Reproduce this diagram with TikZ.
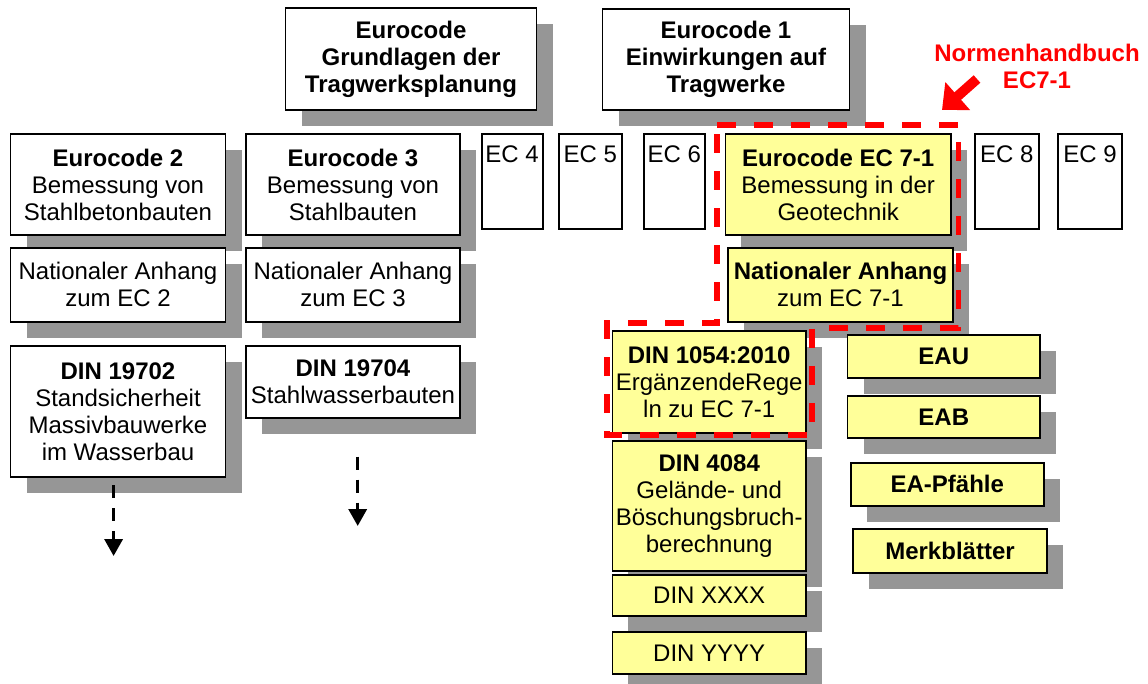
\documentclass[tikz,border=0pt]{standalone}
\usepackage{fontspec}
\setmainfont{Liberation Sans}
\usetikzlibrary{shadows,arrows.meta}
\definecolor{shgray}{HTML}{969696}
\definecolor{boxyellow}{HTML}{FFFF99}
\definecolor{markred}{HTML}{FF0000}
\newcommand\boxfont{\fontsize{24}{27}\selectfont}
\tikzset{
  box/.style={draw=black, line width=1.8pt, fill=white, inner sep=0pt, align=center, font=\boxfont,
    drop shadow={shadow xshift=16pt, shadow yshift=-16pt, fill=shgray, opacity=1}},
  ybox/.style={box, fill=boxyellow},
  ecsmall/.style={draw=black, line width=1.8pt, fill=white, inner xsep=0pt, inner ysep=12pt,
    font=\boxfont, text height=17pt, text depth=54pt, minimum width=62pt, minimum height=95pt},
  redframe/.style={draw=markred, line width=5.5pt, dash pattern=on 19pt off 18pt},
  redarrow/.style={draw=markred, line width=10pt, -{Triangle[length=21pt,width=36pt]}},
  contarrow/.style={draw=black, line width=3.5pt, dash pattern=on 13pt off 10pt, -{Triangle[length=17pt,width=18pt]}},
}
\begin{document}
\begin{tikzpicture}[x=1pt, y=-1pt]
\useasboundingbox (0,0) rectangle (1148,684);
% top row
\node[box, minimum width=251pt, minimum height=102pt] (grund) at (411,59.2)
  {\textbf{Eurocode}\\\textbf{Grundlagen der}\\\textbf{Tragwerksplanung}};
\node[box, minimum width=247pt, minimum height=101pt] (ec1) at (726,59.7)
  {\textbf{Eurocode 1}\\\textbf{Einwirkungen auf}\\\textbf{Tragwerke}};
% second row
\node[box, minimum width=215pt, minimum height=101pt] (ec2) at (118,184.5)
  {\textbf{Eurocode 2}\\Bemessung von\\Stahlbetonbauten};
\node[box, minimum width=214pt, minimum height=101pt] (ec3) at (353,184.5)
  {\textbf{Eurocode 3}\\Bemessung von\\Stahlbauten};
\node[ecsmall, minimum width=61pt] (ec4) at (512.1,181.5) {EC 4};
\node[ecsmall, minimum width=63pt] (ec5) at (590.2,181.5) {EC 5};
\node[ecsmall, minimum width=61pt] (ec6) at (674.4,181.5) {EC 6};
\node[ybox, minimum width=225.6pt, minimum height=101pt] (ec7) at (838.2,184.5)
  {\textbf{Eurocode EC 7-1}\\Bemessung in der\\Geotechnik};
\node[ecsmall, minimum width=64pt] (ec8) at (1006.9,181.5) {EC 8};
\node[ecsmall, minimum width=64pt] (ec9) at (1090,181.5) {EC 9};
% national annexes
\node[box, minimum width=215pt, minimum height=74pt] (na2) at (118,284.7)
  {Nationaler Anhang\\zum EC 2};
\node[box, minimum width=214pt, minimum height=74pt] (na3) at (353,284.7)
  {Nationaler Anhang\\zum EC 3};
\node[ybox, minimum width=225pt, minimum height=74pt] (na7) at (840.5,284.7)
  {\textbf{Nationaler Anhang}\\zum EC 7-1};
% DIN standards
\node[box, minimum width=215pt, minimum height=130.7pt] (din19702) at (118,411.3)
  {\textbf{DIN 19702}\\Standsicherheit\\Massivbauwerke\\im Wasserbau};
\node[box, minimum width=214pt, minimum height=72.3pt] (din19704) at (353,382.2)
  {\textbf{DIN 19704}\\Stahlwasserbauten};
\node[ybox, minimum width=193.6pt, minimum height=101.7pt] (din1054) at (709.2,381.8)
  {\textbf{DIN 1054:2010}\\ErgänzendeRege\\ln zu EC 7-1};
\node[ybox, minimum width=193.6pt, minimum height=129.7pt] (din4084) at (709.2,505.8)
  {\textbf{DIN 4084}\\Gelände- und\\Böschungsbruch-\\berechnung};
\node[ybox, minimum width=193.6pt, minimum height=41pt] (dinx) at (709.2,595.5) {DIN XXXX};
\node[ybox, minimum width=193.6pt, minimum height=42.3pt] (diny) at (709.2,652.8) {DIN YYYY};
% recommendations
\node[ybox, minimum width=192.5pt, minimum height=43pt] (eau) at (943.8,356.5) {\textbf{EAU}};
\node[ybox, minimum width=192.5pt, minimum height=42.6pt] (eab) at (943.8,417) {\textbf{EAB}};
\node[ybox, minimum width=192.6pt, minimum height=43.3pt] (eap) at (947.3,484.3) {\textbf{EA-Pfähle}};
\node[ybox, minimum width=194pt, minimum height=43.7pt] (merk) at (950,550.8) {\textbf{Merkblätter}};
% continuation arrows
\coordinate (c1s) at (113.6,485);
\coordinate (c1e) at (113.6,556);
\coordinate (c2s) at (357.7,456.7);
\coordinate (c2e) at (357.7,526);
\draw[contarrow] (c1s) -- (c1e);
\draw[contarrow] (c2s) -- (c2e);
% red frame of the Normenhandbuch
\draw[redframe] (717,125) -- (958.5,125) -- (958.5,328) -- (812,328) -- (812,435)
  -- (607,435) -- (607,323) -- (717,323) -- cycle;
\node[font=\boxfont\bfseries, text=markred, align=center, inner sep=0pt] (nhb) at (1037,66)
  {Normenhandbuch\\EC7-1};
\coordinate (rs) at (977,79);
\coordinate (re) at (942,110);
\draw[redarrow] (rs) -- (re);
\end{tikzpicture}
\end{document}
